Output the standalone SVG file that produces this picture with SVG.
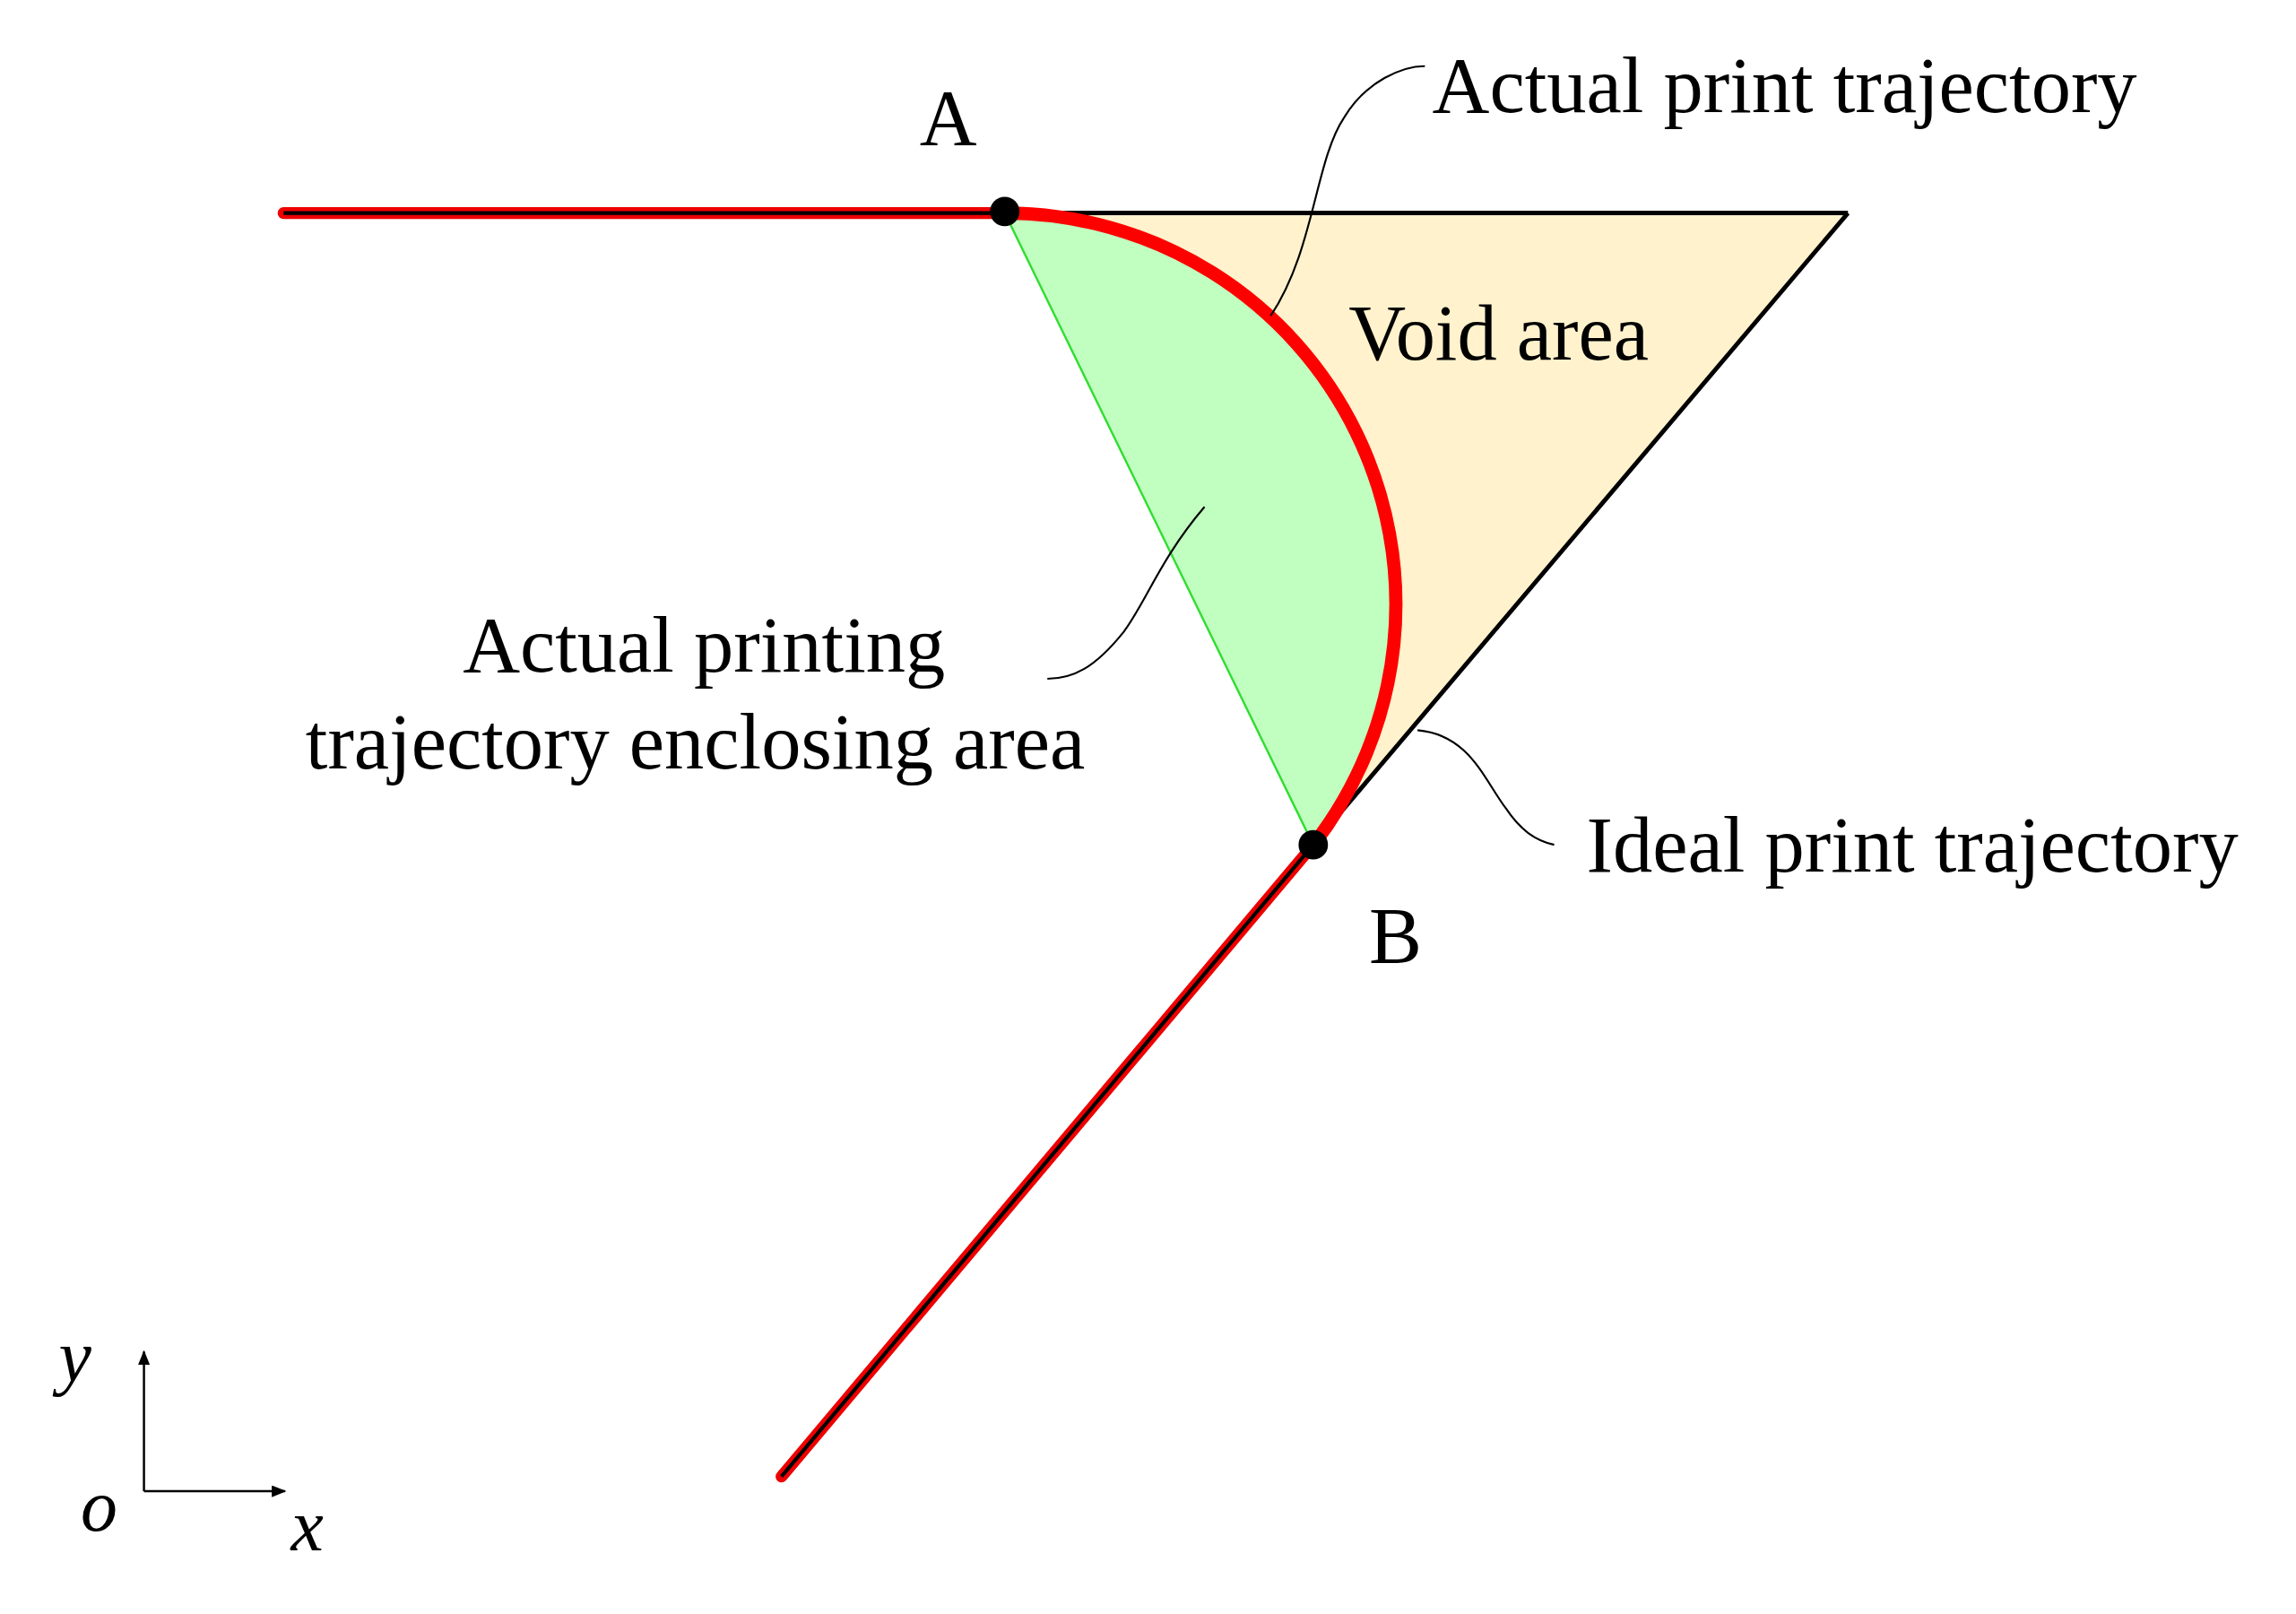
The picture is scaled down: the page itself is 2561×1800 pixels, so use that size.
<svg xmlns="http://www.w3.org/2000/svg" width="2561" height="1800" viewBox="0 0 2561 1800">
<style>
text{font-family:"Liberation Serif","Times New Roman",serif;font-size:54px;fill:#000}
.it{font-style:italic;font-size:50px}
.lead{fill:none;stroke:#000;stroke-width:1.3}
</style>
<defs><marker id="ar" markerWidth="10" markerHeight="8" refX="9" refY="4" orient="auto" markerUnits="userSpaceOnUse"><path d="M0,0L10,4L0,8z" fill="#000"/></marker></defs>
<rect width="2561" height="1800" fill="#fff"/>
<g transform="scale(1.6385)">
<g id="void"><path d="M684,145 L1258,145 L894,575 A266.3,266.3 0 0 0 684,145 Z" fill="#FFF2CC"/></g>
<g id="enclosed"><path d="M684,145 A266.3,266.3 0 0 1 894,575 Z" fill="#C0FFC0" stroke="#33DD33" stroke-width="1.5"/></g>
<g id="connectors">
<path d="M1258,145 L894,575" stroke="#000" stroke-width="3"/>
<path d="M684,145 L1258,145" stroke="#000" stroke-width="3"/>
<path d="M193,145 L684,145" stroke="#E00" stroke-width="8" stroke-linecap="round"/>
<path d="M193,145 L684,145" stroke="#000" stroke-width="2.5"/>
<path d="M894,575 L532,1005" stroke="#E00" stroke-width="8" stroke-linecap="round"/>
<path d="M894,575 L532,1005" stroke="#000" stroke-width="2.5"/>
<path d="M684,145 A266.3,266.3 0 0 1 894,575" fill="none" stroke="#F00" stroke-width="9"/>
<path class="lead" d="M865,215 C895,170 895,110 915,80 C930,55 955,45 970,45"/>
<path class="lead" d="M820,345 C790,380 780,410 765,430 C745,455 730,462 713,462"/>
<path class="lead" d="M965,497 C1000,500 1010,530 1025,550 C1035,565 1045,572 1058,575"/>
<path d="M98,1015 L98,920" stroke="#000" stroke-width="1.5" marker-end="url(#ar)"/>
<path d="M98,1015 L194,1015" stroke="#000" stroke-width="1.5" marker-end="url(#ar)"/>
</g>
<g id="A"><circle cx="684" cy="144" r="10" fill="#000"/><text x="626" y="98">A</text></g>
<g id="B"><circle cx="894" cy="575" r="10" fill="#000"/><text x="932" y="655">B</text></g>
<g id="labels">
<text x="975" y="76">Actual print trajectory</text>
<text x="918" y="245">Void area</text>
<text x="315" y="457">Actual printing</text>
<text x="208" y="523">trajectory enclosing area</text>
<text x="1080" y="593">Ideal print trajectory</text>
<text class="it" x="40" y="940">y</text>
<text class="it" x="55" y="1042">o</text>
<text class="it" x="198" y="1055">x</text>
</g>
</g>
</svg>
